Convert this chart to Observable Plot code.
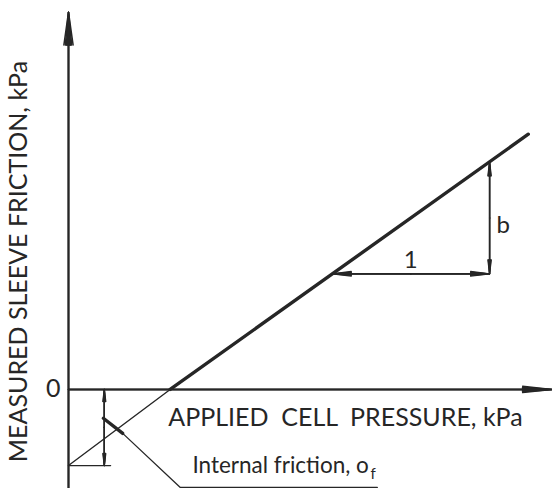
<!DOCTYPE html>
<html><head><meta charset="utf-8">
<script src="https://cdn.jsdelivr.net/npm/d3@7"></script>
<script src="https://cdn.jsdelivr.net/npm/@observablehq/plot@0.6"></script>
<style>body{margin:0;background:#fff}</style>
</head><body><div id="chart"></div>
<script>
// Schematic: measured sleeve friction vs applied cell pressure (kPa, schematic units)
const frictionX = [21, 95];          // measured line (thick)
const frictionY = [0, 52.3];
const extrapX = [0, 21];             // extrapolation back to zero pressure
const extrapY = [-15.6, 0];
const slopeRunX = [54.5, 87];        // slope triangle: run = 1
const slopeRiseY = [23.7, 46.6];     // rise = b
const sigmaFX = 7.4;                 // dimension line for internal friction
const sigmaFY = [0, -15.6];
const sigmaTickX = [0, 8.7];
const leaderX = [7.2, 11.2, 23.1, 63.8];
const leaderY = [-5.9, -9.0, -20.1, -20.1];
const xAxisExtent = [0, 100];
const yAxisExtent = [-20.3, 77.3];
const xLabel = "APPLIED\u00a0 CELL\u00a0 PRESSURE, kPa";
const yLabel = "MEASURED SLEEVE FRICTION, kPa";
const zeroLabel = "0";
const runLabel = "1";
const riseLabel = "b";
const frictionLabel = "Internal friction, o";
const frictionSub = "f";

const ink = "#262626";
const font = "Lato";

function seg(xs, ys) { return xs.map((x, i) => ({x, y: ys[i]})); }

// arrow whose head looks filled: stack of narrow open heads
function filledArrow(a, len, maxAngle, sw = 1.5) {
  const angles = [maxAngle, maxAngle * 0.7, maxAngle * 0.45, maxAngle * 0.2];
  return angles.map(ang => Plot.arrow([a], {
    x1: "x1", y1: "y1", x2: "x2", y2: "y2",
    headLength: len, headAngle: ang, stroke: ink, strokeWidth: sw, inset: 0
  }));
}
function doubleArrow(x1, y1, x2, y2, len, ang) {
  const mx = (x1 + x2) / 2, my = (y1 + y2) / 2;
  return [
    ...filledArrow({x1: mx, y1: my, x2: x1, y2: y1}, len, ang, 1.3),
    ...filledArrow({x1: mx, y1: my, x2: x2, y2: y2}, len, ang, 1.3)
  ];
}

const chart = Plot.plot({
  width: 552, height: 488,
  marginLeft: 68, marginRight: 0, marginTop: 0, marginBottom: 0,
  x: {domain: [0, 100], axis: null},
  y: {domain: [-20.3, 79.7], axis: null},
  style: {fontFamily: font, background: "white", color: ink, overflow: "visible"},
  marks: [
    // axes
    ...filledArrow({x1: 0, y1: yAxisExtent[0], x2: 0, y2: yAxisExtent[1]}, 33, 16, 1.5),
    ...filledArrow({x1: xAxisExtent[0], y1: 0, x2: xAxisExtent[1], y2: 0}, 30, 12, 1.5),
    // extrapolated line (thin) and measured line (thick)
    Plot.line(seg(extrapX, extrapY), {x: "x", y: "y", stroke: ink, strokeWidth: 1.4}),
    Plot.line(seg(frictionX, frictionY), {x: "x", y: "y", stroke: ink, strokeWidth: 3.4}),
    // slope triangle
    ...doubleArrow(slopeRunX[0], slopeRiseY[0], slopeRunX[1], slopeRiseY[0], 22, 14),
    ...doubleArrow(slopeRunX[1], slopeRiseY[0], slopeRunX[1], slopeRiseY[1], 16, 14),
    // internal friction dimension
    Plot.line(seg(sigmaTickX, [sigmaFY[1], sigmaFY[1]]), {x: "x", y: "y", stroke: ink, strokeWidth: 1.3}),
    ...doubleArrow(sigmaFX, sigmaFY[0], sigmaFX, sigmaFY[1], 14, 14),
    // leader
    Plot.line(seg(leaderX.slice(0, 2), leaderY.slice(0, 2)), {x: "x", y: "y", stroke: ink, strokeWidth: 3.4}),
    Plot.line(seg(leaderX.slice(1), leaderY.slice(1)), {x: "x", y: "y", stroke: ink, strokeWidth: 1.3}),
    // texts
    Plot.text([zeroLabel], {x: 0, y: 0, text: d => d, dx: -8, textAnchor: "end", fontSize: 25, fill: ink}),
    Plot.text([xLabel], {x: 20.6, y: -5.8, text: d => d, textAnchor: "start", fontSize: 25, fill: ink}),
    Plot.text([yLabel], {frameAnchor: "left", dx: -50, dy: 17, rotate: -90, textAnchor: "middle", text: d => d, fontSize: 25, fill: ink}),
    Plot.text([runLabel], {x: 70.7, y: slopeRiseY[0], dy: -13, text: d => d, fontSize: 24, fill: ink}),
    Plot.text([riseLabel], {x: 89.8, y: 33.6, text: d => d, fontSize: 24, fill: ink}),
    Plot.text([frictionLabel], {x: 25.6, y: -15.6, text: d => d, textAnchor: "start", fontSize: 22.5, fill: ink}),
    Plot.text([frictionSub], {x: 62.4, y: -17.4, text: d => d, textAnchor: "start", fontSize: 15, fill: ink})
  ]
});
document.getElementById("chart").appendChild(chart);
</script></body></html>
